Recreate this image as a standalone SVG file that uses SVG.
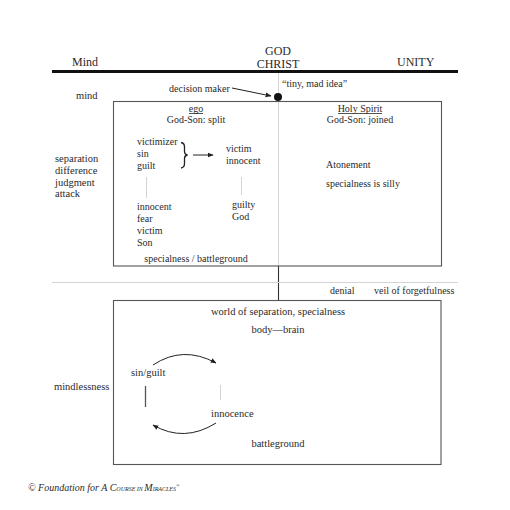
<svg xmlns="http://www.w3.org/2000/svg" width="510" height="510" viewBox="0 0 510 510">
<defs>
<style>
text{font-family:"Liberation Serif","Times New Roman",serif;fill:#2a2a2a;font-size:10px}
.big{font-size:12px}
.md{font-size:10.5px}
.c{text-anchor:middle}
.box{fill:none;stroke:#555;stroke-width:1.1}
.faint{stroke:#d4d4d4;stroke-width:1;fill:none}
.dark{stroke:#333;stroke-width:1.1;fill:none}
</style>
<marker id="ah" viewBox="0 0 10 10" refX="9" refY="5" markerWidth="6" markerHeight="6" orient="auto" markerUnits="userSpaceOnUse">
<path d="M0,1 L10,5 L0,9 Z" fill="#222"/>
</marker>
</defs>
<rect width="510" height="510" fill="#fff"/>

<g id="header">
<text class="big" x="72" y="66">Mind</text>
<text class="big c" x="278" y="55">GOD</text>
<text class="big c" x="278" y="68">CHRIST</text>
<text class="big" x="397" y="66">UNITY</text>
<line x1="52" y1="71.5" x2="458" y2="71.5" stroke="#111" stroke-width="3"/>
</g>

<g id="connectors">
<line class="faint" x1="278.5" y1="73" x2="278.5" y2="266"/>
<line class="dark" x1="278.5" y1="266" x2="278.5" y2="300"/>
<line class="faint" x1="52" y1="282.5" x2="458" y2="282.5"/>
<line x1="232" y1="88" x2="271" y2="96" stroke="#222" stroke-width="1" marker-end="url(#ah)"/>
<line x1="193" y1="155" x2="213" y2="155" stroke="#222" stroke-width="1" marker-end="url(#ah)"/>
<line class="faint" x1="146.5" y1="177" x2="146.5" y2="198"/>
<line class="faint" x1="241.5" y1="177" x2="241.5" y2="195"/>
<line x1="145.5" y1="386" x2="145.5" y2="407" stroke="#555" stroke-width="1.3"/>
<line class="faint" x1="220.5" y1="385" x2="220.5" y2="400"/>
<path d="M153,365 Q183,345 216,363" fill="none" stroke="#222" stroke-width="1" marker-end="url(#ah)"/>
<path d="M216,423 Q184,443 153,425" fill="none" stroke="#222" stroke-width="1" marker-end="url(#ah)"/>
</g>

<g id="decision-maker">
<circle cx="278" cy="97" r="4" fill="#111"/>
<text x="169" y="92">decision maker</text>
<text x="282" y="87">“tiny, mad idea”</text>
</g>

<g id="mind-labels">
<text class="md" x="76" y="99">mind</text>
<text class="md" x="55" y="162">separation</text>
<text class="md" x="55" y="174">difference</text>
<text class="md" x="55" y="186">judgment</text>
<text class="md" x="55" y="197">attack</text>
</g>

<g id="top-box">
<rect class="box" x="113.5" y="101.5" width="328" height="164.5"/>
</g>

<g id="ego">
<text class="c" x="196" y="112">ego</text>
<line x1="189" y1="113.5" x2="203" y2="113.5" stroke="#2a2a2a" stroke-width="0.8"/>
<text class="c" x="196" y="123">God-Son: split</text>
<text x="137" y="145">victimizer</text>
<text x="137" y="157">sin</text>
<text x="137" y="169">guilt</text>
<path d="M181,142.5 Q184.5,143 184.5,147 L184.5,151.5 Q184.5,154.5 187.5,155 Q184.5,155.5 184.5,158.5 L184.5,163.5 Q184.5,167.5 181,168" fill="none" stroke="#222" stroke-width="1.3"/>
<text x="226" y="152">victim</text>
<text x="226" y="164">innocent</text>
<text x="137" y="210">innocent</text>
<text x="137" y="222">fear</text>
<text x="137" y="234">victim</text>
<text x="137" y="246">Son</text>
<text x="232" y="208">guilty</text>
<text x="232" y="220">God</text>
<text class="c" x="196" y="262">specialness / battleground</text>
</g>

<g id="holy-spirit">
<text class="c" x="360" y="112">Holy Spirit</text>
<line x1="338" y1="113.5" x2="382" y2="113.5" stroke="#2a2a2a" stroke-width="0.8"/>
<text class="c" x="360" y="123">God-Son: joined</text>
<text x="326" y="168">Atonement</text>
<text x="326" y="187">specialness is silly</text>
</g>

<g id="veil">
<text x="330" y="294">denial</text>
<text x="374" y="294">veil of forgetfulness</text>
</g>

<g id="world-box">
<rect class="box" x="113.5" y="300.5" width="327.5" height="164"/>
<text class="md c" x="278" y="315">world of separation, specialness</text>
<text class="md c" x="278" y="333">body—brain</text>
<text class="md" x="131" y="376">sin/guilt</text>
<text class="md" x="211" y="417">innocence</text>
<text class="md c" x="278" y="447">battleground</text>
</g>

<g id="mindlessness">
<text class="md" x="54" y="390">mindlessness</text>
</g>

<g id="copyright">
<text x="28" y="491" font-size="8.3" font-style="italic">© Foundation for A C<tspan font-size="6">OURSE IN </tspan>M<tspan font-size="6">IRACLES</tspan><tspan font-size="5" dy="-4">®</tspan></text>
</g>
</svg>
